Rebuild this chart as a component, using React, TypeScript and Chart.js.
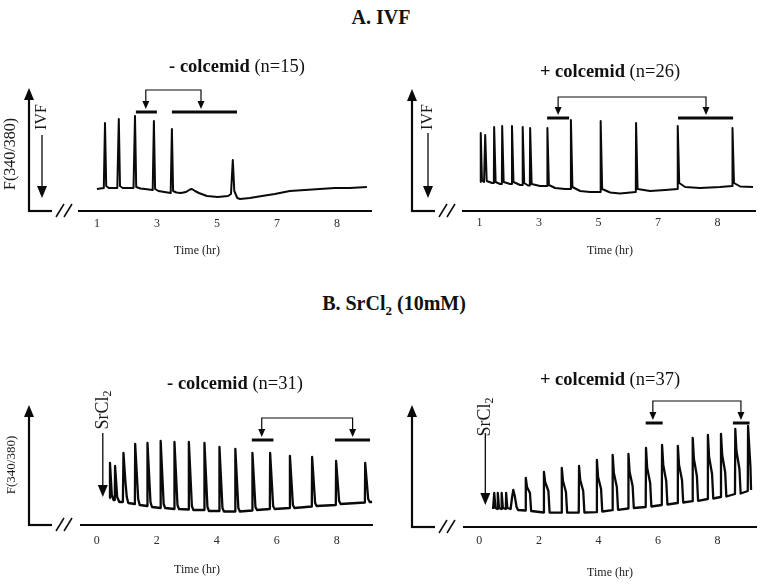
import React, { useEffect, useRef } from "react";
import { Chart, registerables } from "chart.js";

Chart.register(...registerables);

const SERIF = '"Liberation Serif", "Times New Roman", "DejaVu Serif", serif';
const INK = "#0a0a0a";

// ================= DATA =================
// x-axis ticks (tick position on the axis, printed label)
const ivfTickPositions = [1, 3, 5, 7, 9];
const ivfTickLabels = ["1", "3", "5", "7", "8"];
const srTickPositions = [0, 2, 4, 6, 8];
const srTickLabels = ["0", "2", "4", "6", "8"];

// Traces: [time, F(340/380) in arbitrary units]
const ivfControlTrace: [number, number][] = [
  [1.0, 0.22], [1.23, 0.23], [1.27, 0.88], [1.31, 0.25], [1.4, 0.23], [1.68, 0.23], [1.73, 0.92], [1.77, 0.25],
  [1.86, 0.23], [2.22, 0.23], [2.27, 0.95], [2.31, 0.24], [2.45, 0.225], [2.6, 0.22], [2.86, 0.21], [2.9, 0.9],
  [2.94, 0.22], [3.05, 0.2], [3.25, 0.19], [3.46, 0.18], [3.5, 0.82], [3.54, 0.2], [3.65, 0.185], [3.8, 0.18],
  [3.97, 0.19], [4.1, 0.215], [4.17, 0.22], [4.27, 0.2], [4.4, 0.18], [4.67, 0.15], [5.03, 0.14], [5.37, 0.15],
  [5.47, 0.17], [5.53, 0.51], [5.58, 0.2], [5.68, 0.13], [5.77, 0.12], [6.1, 0.13], [6.5, 0.15], [6.93, 0.17],
  [7.43, 0.2], [7.93, 0.21], [8.43, 0.22], [8.93, 0.23], [9.43, 0.23], [10.0, 0.24],
];

const ivfColcemidTrace: [number, number][] = [
  [1.02, 0.29], [1.04, 0.78], [1.08, 0.31], [1.15, 0.29], [1.18, 0.29], [1.19, 0.76], [1.24, 0.3], [1.42, 0.28],
  [1.48, 0.28], [1.49, 0.84], [1.54, 0.29], [1.69, 0.27], [1.75, 0.27], [1.76, 0.85], [1.81, 0.29], [2.03, 0.27],
  [2.08, 0.27], [2.09, 0.85], [2.14, 0.29], [2.36, 0.26], [2.44, 0.26], [2.45, 0.84], [2.5, 0.28], [2.63, 0.255],
  [2.69, 0.255], [2.7, 0.83], [2.75, 0.27], [3.03, 0.25], [3.27, 0.25], [3.28, 0.83], [3.33, 0.26], [3.54, 0.23],
  [3.87, 0.22], [4.06, 0.22], [4.07, 0.91], [4.12, 0.24], [4.38, 0.2], [4.71, 0.19], [5.06, 0.19], [5.07, 0.9],
  [5.12, 0.22], [5.39, 0.185], [5.72, 0.175], [6.25, 0.19], [6.26, 0.88], [6.31, 0.22], [6.73, 0.2], [7.24, 0.21],
  [7.65, 0.22], [7.66, 0.85], [7.71, 0.28], [7.91, 0.24], [8.41, 0.23], [9.08, 0.24], [9.49, 0.25], [9.5, 0.83],
  [9.55, 0.28], [9.76, 0.245], [10.19, 0.24],
];

const srControlTrace: [number, number][] = [
  [0.42, 0.27], [0.44, 0.62], [0.5, 0.3], [0.56, 0.25],
  [0.6, 0.25], [0.61, 0.59], [0.68, 0.28], [0.75, 0.23],
  [0.87, 0.23], [0.89, 0.72], [0.95, 0.45], [1.0, 0.28], [1.05, 0.22],
  [1.27, 0.21], [1.28, 0.81], [1.38, 0.26], [1.43, 0.2],
  [1.68, 0.19], [1.69, 0.82], [1.79, 0.23], [1.84, 0.18],
  [2.12, 0.17], [2.13, 0.84], [2.23, 0.21], [2.28, 0.17],
  [2.58, 0.16], [2.59, 0.83], [2.69, 0.2], [2.74, 0.16],
  [3.06, 0.155], [3.07, 0.83], [3.17, 0.19], [3.22, 0.15],
  [3.58, 0.15], [3.59, 0.82], [3.69, 0.18], [3.74, 0.14],
  [4.08, 0.14], [4.09, 0.78], [4.19, 0.17], [4.24, 0.135],
  [4.61, 0.135], [4.62, 0.76], [4.72, 0.17], [4.77, 0.135],
  [5.18, 0.145], [5.19, 0.72], [5.29, 0.18], [5.34, 0.15],
  [5.77, 0.16], [5.78, 0.72], [5.88, 0.19], [5.93, 0.16],
  [6.43, 0.17], [6.44, 0.69], [6.54, 0.2], [6.59, 0.17],
  [7.17, 0.185], [7.18, 0.68], [7.28, 0.22], [7.33, 0.19],
  [7.97, 0.2], [7.98, 0.64], [8.08, 0.24], [8.13, 0.21],
  [8.94, 0.225], [8.95, 0.62], [9.05, 0.26], [9.1, 0.23],
  [9.18, 0.23],
];

const srColcemidTrace: [number, number][] = [
  [0.46, 0.18], [0.49, 0.18], [0.5, 0.34], [0.54, 0.19],
  [0.61, 0.18], [0.62, 0.34], [0.66, 0.19],
  [0.74, 0.18], [0.75, 0.34], [0.79, 0.19],
  [0.89, 0.18], [0.9, 0.34], [0.94, 0.19],
  [1.05, 0.18], [1.1, 0.3], [1.14, 0.37], [1.19, 0.31], [1.25, 0.2], [1.3, 0.17],
  [1.55, 0.165], [1.56, 0.49], [1.6, 0.4], [1.7, 0.34], [1.74, 0.16],
  [2.16, 0.145], [2.17, 0.55], [2.21, 0.45], [2.32, 0.36], [2.36, 0.145],
  [2.76, 0.143], [2.77, 0.59], [2.81, 0.46], [2.91, 0.35], [2.95, 0.143],
  [3.34, 0.143], [3.35, 0.61], [3.39, 0.47], [3.49, 0.36], [3.53, 0.145],
  [3.94, 0.148], [3.95, 0.67], [3.99, 0.5], [4.09, 0.38], [4.13, 0.155],
  [4.47, 0.168], [4.48, 0.72], [4.52, 0.54], [4.62, 0.4], [4.66, 0.172],
  [5.0, 0.185], [5.01, 0.73], [5.05, 0.55], [5.15, 0.41], [5.19, 0.19],
  [5.59, 0.2], [5.6, 0.79], [5.64, 0.59], [5.74, 0.44], [5.78, 0.205],
  [6.13, 0.22], [6.14, 0.82], [6.18, 0.62], [6.28, 0.46], [6.32, 0.225],
  [6.66, 0.24], [6.67, 0.81], [6.71, 0.62], [6.81, 0.47], [6.85, 0.245],
  [7.16, 0.258], [7.17, 0.89], [7.21, 0.68], [7.31, 0.51], [7.35, 0.262],
  [7.67, 0.28], [7.68, 0.92], [7.72, 0.7], [7.82, 0.53], [7.86, 0.285],
  [8.11, 0.3], [8.12, 0.93], [8.16, 0.72], [8.26, 0.55], [8.3, 0.305],
  [8.59, 0.33], [8.6, 0.98], [8.64, 0.76], [8.74, 0.58], [8.78, 0.335],
  [9.02, 0.36], [9.03, 1.01], [9.07, 0.8], [9.11, 0.6], [9.13, 0.37],
];

// Bracket annotations: horizontal bars [start, end] (time), arms (time),
// levels [bar level, bracket top level] (ratio units)
const ivfControlBars = [[2.3, 3.0], [3.5, 5.67]];
const ivfControlArms = [2.63, 4.47];
const ivfControlLevels = [0.99, 1.21];

const ivfColcemidBars = [[3.27, 4.01], [7.67, 9.52]];
const ivfColcemidArms = [3.64, 8.61];
const ivfColcemidLevels = [0.93, 1.14];

const srControlBars = [[5.17, 5.89], [7.94, 9.11]];
const srControlArms = [5.5, 8.53];
const srControlLevels = [0.85, 1.07];

const srColcemidBars = [[5.59, 6.16], [8.52, 9.08]];
const srColcemidArms = [5.83, 8.79];
const srColcemidLevels = [1.04, 1.26];

// Time of SrCl2 addition
const srAdditionTime = 0.2;

// ================= LAYOUT =================
type EventMark = {
  kind: "px" | "data";
  x: number;
  top: number;
  tip: number;
  textY: number;
  text: string;
  sub?: string;
  size: number;
};

type PanelSpec = {
  id: string;
  left: number;
  top: number;
  width: number;
  height: number;
  pad: { left: number; right: number; top: number; bottom: number };
  xMin: number;
  xMax: number;
  yMax: number;
  tickPos: number[];
  tickLabels: string[];
  tickPad: number;
  trace: [number, number][];
  lineWidth: number;
  yAxisX: number;
  yAxisTop: number;
  yLabel?: { text: string; x: number; y: number; size: number };
  event: EventMark;
  title: { bold: string; normal: string; x: number; y: number; size: number };
  timeLabel: { x: number; y: number };
  bars: number[][];
  arms: number[];
  levels: number[];
};

const panels: PanelSpec[] = [
  {
    id: "ivf-ctrl",
    left: 0, top: 40, width: 381, height: 225,
    pad: { left: 78, right: 9, top: 49, bottom: 24 },
    xMin: 0.37, xMax: 10.17, yMax: 1.22,
    tickPos: ivfTickPositions, tickLabels: ivfTickLabels, tickPad: 6,
    trace: ivfControlTrace, lineWidth: 2,
    yAxisX: 29, yAxisTop: 48,
    yLabel: { text: "F(340/380)", x: 11, y: 114, size: 16 },
    event: { kind: "px", x: 42, top: 95, tip: 158, textY: 77, text: "IVF", size: 16 },
    title: { bold: "- colcemid", normal: " (n=15)", x: 237, y: 27, size: 18.5 },
    timeLabel: { x: 197, y: 211 },
    bars: ivfControlBars, arms: ivfControlArms, levels: ivfControlLevels,
  },
  {
    id: "ivf-colc",
    left: 381, top: 40, width: 381, height: 225,
    pad: { left: 81, right: 6, top: 49, bottom: 24 },
    xMin: 0.41, xMax: 10.29, yMax: 1.22,
    tickPos: ivfTickPositions, tickLabels: ivfTickLabels, tickPad: 5,
    trace: ivfColcemidTrace, lineWidth: 2,
    yAxisX: 31, yAxisTop: 49,
    event: { kind: "px", x: 47, top: 93, tip: 158, textY: 77, text: "IVF", size: 16 },
    title: { bold: "+ colcemid", normal: " (n=26)", x: 229, y: 32, size: 18.5 },
    timeLabel: { x: 229, y: 211 },
    bars: ivfColcemidBars, arms: ivfColcemidArms, levels: ivfColcemidLevels,
  },
  {
    id: "sr-ctrl",
    left: 0, top: 330, width: 381, height: 255,
    pad: { left: 80, right: 8, top: 73, bottom: 30 },
    xMin: -0.56, xMax: 9.21, yMax: 1.22,
    tickPos: srTickPositions, tickLabels: srTickLabels, tickPad: 8.5,
    trace: srControlTrace, lineWidth: 2.3,
    yAxisX: 29, yAxisTop: 75,
    yLabel: { text: "F(340/380)", x: 12, y: 135, size: 13 },
    event: { kind: "data", x: srAdditionTime, top: 0.92, tip: 0.28, textY: 1.15, text: "SrCl", sub: "2", size: 18 },
    title: { bold: "- colcemid", normal: " (n=31)", x: 235, y: 54, size: 18.5 },
    timeLabel: { x: 197, y: 240 },
    bars: srControlBars, arms: srControlArms, levels: srControlLevels,
  },
  {
    id: "sr-colc",
    left: 381, top: 330, width: 381, height: 255,
    pad: { left: 82, right: 5, top: 75, bottom: 28 },
    xMin: -0.55, xMax: 9.33, yMax: 1.22,
    tickPos: srTickPositions, tickLabels: srTickLabels, tickPad: 6.5,
    trace: srColcemidTrace, lineWidth: 2.3,
    yAxisX: 31, yAxisTop: 75,
    event: { kind: "data", x: srAdditionTime, top: 0.94, tip: 0.22, textY: 1.1, text: "SrCl", sub: "2", size: 18 },
    title: { bold: "+ colcemid", normal: " (n=37)", x: 229, y: 50, size: 18.5 },
    timeLabel: { x: 229, y: 243 },
    bars: srColcemidBars, arms: srColcemidArms, levels: srColcemidLevels,
  },
];

// ================= DRAWING HELPERS =================
function seg(ctx: CanvasRenderingContext2D, x1: number, y1: number, x2: number, y2: number) {
  ctx.beginPath();
  ctx.moveTo(x1, y1);
  ctx.lineTo(x2, y2);
  ctx.stroke();
}

function arrowHead(ctx: CanvasRenderingContext2D, x: number, y: number, dir: "up" | "down", w: number, h: number) {
  ctx.beginPath();
  ctx.moveTo(x, y);
  const s = dir === "up" ? 1 : -1;
  ctx.lineTo(x - w / 2, y + s * h);
  ctx.lineTo(x + w / 2, y + s * h);
  ctx.closePath();
  ctx.fill();
}

function makeDecor(spec: PanelSpec) {
  return {
    id: "decor-" + spec.id,
    afterDraw(chart: any) {
      const ctx: CanvasRenderingContext2D = chart.ctx;
      const a = chart.chartArea;
      const xs = chart.scales.x;
      const ys = chart.scales.y;
      ctx.save();
      ctx.strokeStyle = INK;
      ctx.fillStyle = INK;
      ctx.lineCap = "butt";

      // main time axis
      ctx.lineWidth = 2.2;
      seg(ctx, a.left, a.bottom, a.right, a.bottom);

      // y axis with arrow + stub + break marks
      const ax = spec.yAxisX;
      seg(ctx, ax, a.bottom + 1, ax, spec.yAxisTop + 9);
      arrowHead(ctx, ax, spec.yAxisTop, "up", 10, 12);
      seg(ctx, ax - 1, a.bottom, ax + 23, a.bottom);
      ctx.lineWidth = 1.5;
      seg(ctx, ax + 27, a.bottom + 6, ax + 35, a.bottom - 7);
      seg(ctx, ax + 35, a.bottom + 6, ax + 43, a.bottom - 7);

      // y label
      if (spec.yLabel) {
        ctx.save();
        ctx.translate(spec.yLabel.x, spec.yLabel.y);
        ctx.rotate(-Math.PI / 2);
        ctx.font = `${spec.yLabel.size}px ${SERIF}`;
        ctx.fillStyle = "#1a1a1a";
        ctx.textAlign = "center";
        ctx.textBaseline = "middle";
        ctx.fillText(spec.yLabel.text, 0, 0);
        ctx.restore();
      }

      // event arrow (IVF / SrCl2)
      const ev = spec.event;
      const ex = ev.kind === "data" ? xs.getPixelForValue(ev.x) : ev.x;
      const eTop = ev.kind === "data" ? ys.getPixelForValue(ev.top) : ev.top;
      const eTip = ev.kind === "data" ? ys.getPixelForValue(ev.tip) : ev.tip;
      const eText = ev.kind === "data" ? ys.getPixelForValue(ev.textY) : ev.textY;
      ctx.lineWidth = 1.3;
      seg(ctx, ex, eTop, ex, eTip - 10);
      arrowHead(ctx, ex, eTip, "down", 10, 12);
      ctx.save();
      ctx.translate(ex, eText);
      ctx.rotate(-Math.PI / 2);
      ctx.fillStyle = "#1a1a1a";
      ctx.textBaseline = "middle";
      ctx.font = `${ev.size}px ${SERIF}`;
      const w1 = ctx.measureText(ev.text).width;
      let w2 = 0;
      if (ev.sub) {
        ctx.font = `${Math.round(ev.size * 0.65)}px ${SERIF}`;
        w2 = ctx.measureText(ev.sub).width;
      }
      const start = -(w1 + w2) / 2;
      ctx.textAlign = "left";
      ctx.font = `${ev.size}px ${SERIF}`;
      ctx.fillText(ev.text, start, 0);
      if (ev.sub) {
        ctx.font = `${Math.round(ev.size * 0.65)}px ${SERIF}`;
        ctx.fillText(ev.sub, start + w1, 5);
      }
      ctx.restore();

      // brackets
      const barY = ys.getPixelForValue(spec.levels[0]);
      const topY = ys.getPixelForValue(spec.levels[1]);
      ctx.lineWidth = 3;
      for (const b of spec.bars) {
        seg(ctx, xs.getPixelForValue(b[0]), barY, xs.getPixelForValue(b[1]), barY);
      }
      ctx.lineWidth = 1.2;
      const xa = xs.getPixelForValue(spec.arms[0]);
      const xb = xs.getPixelForValue(spec.arms[1]);
      const tipY = barY - 3;
      ctx.beginPath();
      ctx.moveTo(xa, tipY - 7);
      ctx.lineTo(xa, topY);
      ctx.lineTo(xb, topY);
      ctx.lineTo(xb, tipY - 7);
      ctx.stroke();
      arrowHead(ctx, xa, tipY, "down", 7, 8);
      arrowHead(ctx, xb, tipY, "down", 7, 8);

      // panel title: bold part + normal part
      const t = spec.title;
      ctx.textBaseline = "middle";
      ctx.textAlign = "left";
      ctx.fillStyle = "#111";
      ctx.font = `bold ${t.size}px ${SERIF}`;
      const bw = ctx.measureText(t.bold).width;
      ctx.font = `${t.size}px ${SERIF}`;
      const nw = ctx.measureText(t.normal).width;
      const tx = t.x - (bw + nw) / 2;
      ctx.font = `bold ${t.size}px ${SERIF}`;
      ctx.fillText(t.bold, tx, t.y);
      ctx.font = `${t.size}px ${SERIF}`;
      ctx.fillText(t.normal, tx + bw, t.y);

      // time axis title
      ctx.font = `12px ${SERIF}`;
      ctx.fillStyle = "#1a1a1a";
      ctx.textAlign = "center";
      ctx.fillText("Time (hr)", spec.timeLabel.x, spec.timeLabel.y);

      ctx.restore();
    },
  };
}

function buildConfig(spec: PanelSpec): any {
  return {
    type: "line",
    data: {
      datasets: [
        {
          data: spec.trace.map(([x, y]) => ({ x, y })),
          borderColor: INK,
          borderWidth: spec.lineWidth,
          pointRadius: 0,
          tension: 0,
          fill: false,
          borderJoinStyle: "round",
        },
      ],
    },
    options: {
      responsive: false,
      maintainAspectRatio: false,
      animation: false,
      events: [],
      layout: { padding: spec.pad },
      plugins: {
        legend: { display: false },
        tooltip: { enabled: false },
        title: { display: false },
      },
      scales: {
        x: {
          type: "linear",
          min: spec.xMin,
          max: spec.xMax,
          grid: { display: false, drawTicks: false },
          border: { display: false },
          afterBuildTicks: (scale: any) => {
            scale.ticks = spec.tickPos.map((v) => ({ value: v }));
          },
          afterFit: (scale: any) => {
            scale.height = 30;
          },
          ticks: {
            padding: spec.tickPad,
            autoSkip: false,
            maxRotation: 0,
            color: "#2a2a2a",
            font: { family: SERIF, size: 12 },
            callback: (_v: any, i: number) => spec.tickLabels[i],
          },
        },
        y: {
          type: "linear",
          display: false,
          min: 0,
          max: spec.yMax,
        },
      },
    },
    plugins: [makeDecor(spec)],
  };
}

function Panel({ spec }: { spec: PanelSpec }) {
  const ref = useRef<HTMLCanvasElement | null>(null);
  useEffect(() => {
    if (!ref.current) return;
    const chart = new Chart(ref.current, buildConfig(spec));
    return () => chart.destroy();
  }, [spec]);
  return (
    <canvas
      ref={ref}
      width={spec.width}
      height={spec.height}
      style={{ position: "absolute", left: spec.left, top: spec.top, width: spec.width, height: spec.height }}
    />
  );
}

export default function App() {
  return (
    <div
      style={{
        position: "fixed",
        left: 0,
        top: 0,
        width: 762,
        height: 585,
        background: "#ffffff",
        fontFamily: SERIF,
        color: "#111",
        overflow: "hidden",
      }}
    >
      <div
        style={{
          position: "absolute",
          left: 0,
          top: 5,
          width: 762,
          textAlign: "center",
          fontWeight: "bold",
          fontSize: 20,
          lineHeight: "24px",
        }}
      >
        A. IVF
      </div>
      <div
        style={{
          position: "absolute",
          left: 194,
          top: 291,
          width: 400,
          textAlign: "center",
          fontWeight: "bold",
          fontSize: 20,
          lineHeight: "24px",
        }}
      >
        B. SrCl
        <span style={{ fontSize: 13, position: "relative", top: 5 }}>2</span> (10mM)
      </div>
      {panels.map((p) => (
        <Panel key={p.id} spec={p} />
      ))}
    </div>
  );
}
